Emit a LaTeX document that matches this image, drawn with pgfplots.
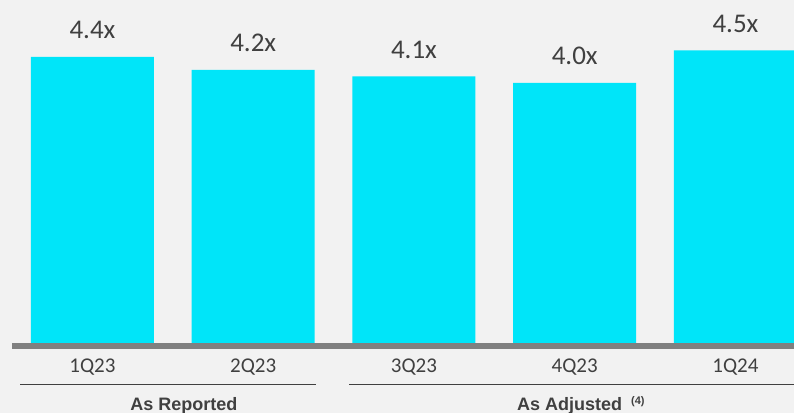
\documentclass[border=0pt]{standalone}
\usepackage{pgfplots}
\pgfplotsset{compat=1.18}
\usepackage{fontspec}
\setmainfont{Carlito}
\newfontfamily\arialb{Liberation Sans}
\definecolor{bg}{HTML}{F2F2F2}
\definecolor{barc}{HTML}{00E5F9}
\definecolor{txt}{HTML}{404040}
\definecolor{basec}{HTML}{808080}
\begin{document}
\begin{tikzpicture}
\useasboundingbox (0,-70bp) rectangle (794bp,343bp);
\fill[bg] (0,-70bp) rectangle (794bp,343bp);
\fill[basec] (12bp,0bp) rectangle (800bp,-5.5bp);
\begin{axis}[
  at={(0,0)}, anchor=south west,
  scale only axis, width=794bp, height=343bp,
  xmin=-0.5754, xmax=4.364, ymin=0, ymax=5.2769,
  axis line style={draw=none},
  ytick=\empty,
  xtick={0,1,2,3,4},
  xticklabels={1Q23,2Q23,3Q23,4Q23,1Q24},
  major tick length=0pt,
  xticklabel style={anchor=base, yshift=-29bp, inner sep=0pt, font=\fontsize{21bp}{21bp}\selectfont, text=txt},
  ybar, bar width=123bp,
  nodes near coords,
  point meta=explicit symbolic,
  every node near coord/.append style={anchor=base, yshift=18bp, inner sep=0pt, font=\fontsize{27bp}{27bp}\selectfont, text=txt},
]
\addplot[fill=barc, draw=none] table[x=x, y=y, meta=label] {
x y label
0 4.4 4.4x
1 4.2 4.2x
2 4.1 4.1x
3 4.0 4.0x
4 4.5 4.5x
};
\end{axis}
\draw[txt, line width=1.2bp] (20bp,-41.3bp) -- (316bp,-41.3bp);
\draw[txt, line width=1.2bp] (349bp,-41.3bp) -- (800bp,-41.3bp);
\node[anchor=base, inner sep=0pt, text=txt, font=\arialb\bfseries\fontsize{18bp}{18bp}\selectfont] at (184bp,-67.5bp) {As Reported};
\node[anchor=base west, inner sep=0pt, text=txt, font=\arialb\bfseries\fontsize{18bp}{18bp}\selectfont] at (517bp,-67.5bp) {As Adjusted\hspace{9bp}\raisebox{6bp}{\fontsize{11bp}{11bp}\selectfont (4)}};
\end{tikzpicture}
\end{document}
